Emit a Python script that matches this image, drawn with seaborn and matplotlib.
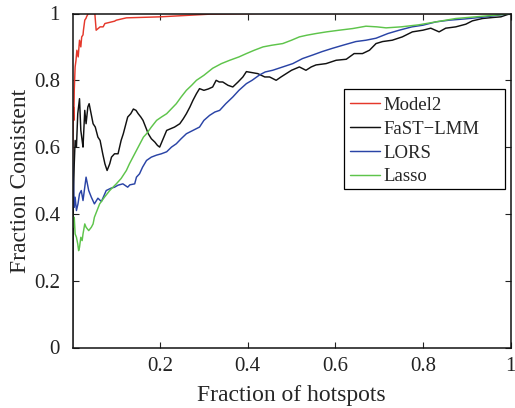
import numpy as np
import pandas as pd
import matplotlib
matplotlib.use("Agg")
import matplotlib.pyplot as plt
from matplotlib.patches import Rectangle
import seaborn as sns

# ---- data ----
model2_x = [0, 0.001, 0.002, 0.003, 0.004, 0.006, 0.008, 0.010, 0.013, 0.016, 0.019, 0.021, 0.024,
            0.025, 0.028, 0.031, 0.032, 0.036, 0.047, 0.051, 0.054, 0.063, 0.070, 0.074, 0.096,
            0.100, 0.123, 0.2, 0.313, 0.427, 0.6, 0.8, 1.0]
model2_y = [0.56, 0.62, 0.72, 0.68, 0.77, 0.84, 0.86, 0.89, 0.87, 0.92, 0.90, 0.93, 0.936,
            0.95, 0.98, 0.986, 0.99, 1.0, 1.0, 1.0, 0.95, 0.96, 0.96, 0.97, 0.977,
            0.98, 0.987, 0.99, 0.998, 1.0, 1.0, 1.0, 1.0]

fast_x = [0, 0.002, 0.004, 0.006, 0.009, 0.012, 0.016, 0.019, 0.022, 0.024, 0.028, 0.031, 0.035,
          0.038, 0.041, 0.047, 0.052, 0.058, 0.063, 0.069, 0.074, 0.079, 0.085, 0.089, 0.096,
          0.104, 0.111, 0.116, 0.126, 0.133, 0.139, 0.145, 0.150, 0.156, 0.161, 0.167, 0.173,
          0.180, 0.188, 0.194, 0.199, 0.207, 0.215, 0.224, 0.233, 0.245, 0.253, 0.260, 0.268,
          0.275, 0.283, 0.290, 0.300, 0.310, 0.320, 0.328, 0.335, 0.343, 0.355, 0.366, 0.378,
          0.389, 0.397, 0.410, 0.423, 0.439, 0.450, 0.465, 0.476, 0.488, 0.500, 0.518, 0.533,
          0.545, 0.556, 0.579, 0.602, 0.625, 0.643, 0.662, 0.678, 0.693, 0.708, 0.730, 0.753,
          0.776, 0.800, 0.818, 0.837, 0.852, 0.875, 0.898, 0.913, 0.936, 0.959, 0.978, 1.0]
fast_y = [0, 0.45, 0.55, 0.62, 0.60, 0.70, 0.745, 0.65, 0.62, 0.60, 0.71, 0.67, 0.72,
          0.73, 0.71, 0.67, 0.66, 0.63, 0.62, 0.58, 0.55, 0.53, 0.55, 0.57, 0.58,
          0.58, 0.62, 0.64, 0.69, 0.70, 0.714, 0.71, 0.70, 0.69, 0.68, 0.66, 0.64,
          0.625, 0.615, 0.605, 0.60, 0.625, 0.65, 0.655, 0.66, 0.67, 0.685, 0.70, 0.72,
          0.74, 0.76, 0.775, 0.77, 0.774, 0.78, 0.80, 0.795, 0.795, 0.785, 0.78, 0.795,
          0.81, 0.826, 0.823, 0.82, 0.81, 0.81, 0.80, 0.81, 0.82, 0.83, 0.84, 0.83,
          0.84, 0.846, 0.85, 0.86, 0.863, 0.88, 0.88, 0.89, 0.91, 0.916, 0.92, 0.93,
          0.945, 0.95, 0.956, 0.945, 0.956, 0.96, 0.968, 0.978, 0.985, 0.988, 0.99, 1.0]

lors_x = [0, 0.002, 0.004, 0.006, 0.009, 0.0125, 0.016, 0.020, 0.024, 0.028, 0.031, 0.034, 0.037,
          0.043, 0.050, 0.058, 0.066, 0.072, 0.077, 0.088, 0.096, 0.104, 0.115, 0.126, 0.131,
          0.142, 0.146, 0.153, 0.160, 0.169, 0.180, 0.192, 0.203, 0.215, 0.226, 0.237, 0.248,
          0.260, 0.275, 0.290, 0.300, 0.313, 0.325, 0.336, 0.350, 0.366, 0.380, 0.397, 0.410,
          0.427, 0.440, 0.457, 0.480, 0.503, 0.525, 0.549, 0.570, 0.594, 0.620, 0.647, 0.670,
          0.693, 0.720, 0.746, 0.775, 0.800, 0.830, 0.860, 0.898, 0.944, 1.0]
lors_y = [0.56, 0.50, 0.42, 0.45, 0.41, 0.43, 0.46, 0.47, 0.44, 0.48, 0.51, 0.49, 0.47,
          0.45, 0.43, 0.447, 0.437, 0.455, 0.47, 0.477, 0.48, 0.486, 0.49, 0.48, 0.487,
          0.49, 0.51, 0.52, 0.54, 0.56, 0.57, 0.576, 0.58, 0.586, 0.60, 0.61, 0.625,
          0.64, 0.65, 0.66, 0.68, 0.695, 0.705, 0.71, 0.73, 0.75, 0.77, 0.79, 0.80,
          0.816, 0.825, 0.83, 0.84, 0.85, 0.865, 0.876, 0.886, 0.896, 0.906, 0.916, 0.92,
          0.926, 0.94, 0.95, 0.96, 0.965, 0.975, 0.98, 0.984, 0.99, 1.0]

lasso_x = [0, 0.002, 0.004, 0.006, 0.009, 0.012, 0.014, 0.016, 0.019, 0.022, 0.024, 0.028, 0.031,
           0.037, 0.043, 0.047, 0.050, 0.056, 0.062, 0.073, 0.085, 0.100, 0.111, 0.123, 0.130,
           0.138, 0.146, 0.154, 0.162, 0.169, 0.180, 0.192, 0.203, 0.215, 0.226, 0.237, 0.248,
           0.260, 0.272, 0.283, 0.300, 0.320, 0.340, 0.359, 0.380, 0.397, 0.415, 0.435, 0.455,
           0.480, 0.500, 0.518, 0.535, 0.556, 0.580, 0.609, 0.640, 0.670, 0.695, 0.716, 0.750,
           0.790, 0.830, 0.875, 0.920, 0.974, 1.0]
lasso_y = [0.40, 0.36, 0.39, 0.34, 0.33, 0.31, 0.29, 0.30, 0.33, 0.32, 0.34, 0.37, 0.36,
           0.35, 0.36, 0.37, 0.39, 0.41, 0.43, 0.45, 0.47, 0.49, 0.506, 0.53, 0.55,
           0.57, 0.59, 0.61, 0.63, 0.64, 0.66, 0.68, 0.69, 0.70, 0.715, 0.73, 0.75,
           0.77, 0.785, 0.80, 0.815, 0.836, 0.85, 0.86, 0.87, 0.88, 0.89, 0.90, 0.905,
           0.91, 0.92, 0.93, 0.935, 0.94, 0.945, 0.95, 0.955, 0.962, 0.96, 0.957, 0.96,
           0.966, 0.975, 0.985, 0.99, 0.996, 1.0]

series_names = ["Model2", "FaST\u2212LMM", "LORS", "Lasso"]
series_colors = ["#e5382b", "#111111", "#2a44a6", "#5ec44b"]
x_ticks = [0.2, 0.4, 0.6, 0.8, 1.0]
x_tick_labels = ["0.2", "0.4", "0.6", "0.8", "1"]
y_ticks = [0, 0.2, 0.4, 0.6, 0.8, 1.0]
y_tick_labels = ["0", "0.2", "0.4", "0.6", "0.8", "1"]

frames = []
for name, xs, ys in zip(series_names,
                        [model2_x, fast_x, lors_x, lasso_x],
                        [model2_y, fast_y, lors_y, lasso_y]):
    frames.append(pd.DataFrame({"x": xs, "y": ys, "method": name}))
df = pd.concat(frames, ignore_index=True)

sns.set_style("ticks")
plt.rcParams["font.family"] = ["Liberation Serif", "DejaVu Serif"]

W, H = 515, 408
ax_l, ax_r, ax_b, ax_t = 72.5, 510.5, 347.5, 13.5   # pixel positions
fig = plt.figure(figsize=(W / 100, H / 100), dpi=100)
ax = fig.add_axes([ax_l / W, (H - ax_b) / H, (ax_r - ax_l) / W, (ax_b - ax_t) / H])

sns.lineplot(data=df, x="x", y="y", hue="method", palette=dict(zip(series_names, series_colors)),
             hue_order=series_names, estimator=None, sort=False, units="method",
             linewidth=1.05, ax=ax, legend=True)

ax.set_xlim(0, 1)
ax.set_ylim(0, 1)
ax.set_xticks(x_ticks)
ax.set_xticklabels(x_tick_labels)
ax.set_yticks(y_ticks)
ax.set_yticklabels(y_tick_labels)
ax.tick_params(direction="in", length=4, width=0.8, top=True, right=True,
               labelsize=15, colors="#222222")
ax.tick_params(axis="x", pad=7)
ax.tick_params(axis="y", pad=9)
for s in ax.spines.values():
    s.set_visible(True)
    s.set_linewidth(1.1)
    s.set_color("#111111")

ax.set_xlabel("Fraction of hotspots", fontsize=17, labelpad=6)
ax.set_ylabel("Fraction Consistent", fontsize=17, labelpad=2)

# legend box (pixel extents from the reference)
def to_ax(px, py):
    return ((px - ax_l) / (ax_r - ax_l), (ax_b - py) / (ax_b - ax_t))

bx0, by0 = to_ax(344.3, 189.3)
bx1, by1 = to_ax(505.0, 89.3)
ax.add_patch(Rectangle((bx0, by0), bx1 - bx0, by1 - by0, transform=ax.transAxes,
                       facecolor="white", edgecolor="black", linewidth=0.9, zorder=5))

handles, labels = ax.get_legend_handles_labels()
lx, ly = to_ax(344.3, 91.0)
leg = ax.legend(handles, labels, loc="upper left", bbox_to_anchor=(lx, ly),
                borderaxespad=0, fontsize=13.5, frameon=False,
                handlelength=1.6, handletextpad=0.2,
                labelspacing=0.36, borderpad=0.3)
leg.set_zorder(6)

fig.savefig("out.png", dpi=100)
